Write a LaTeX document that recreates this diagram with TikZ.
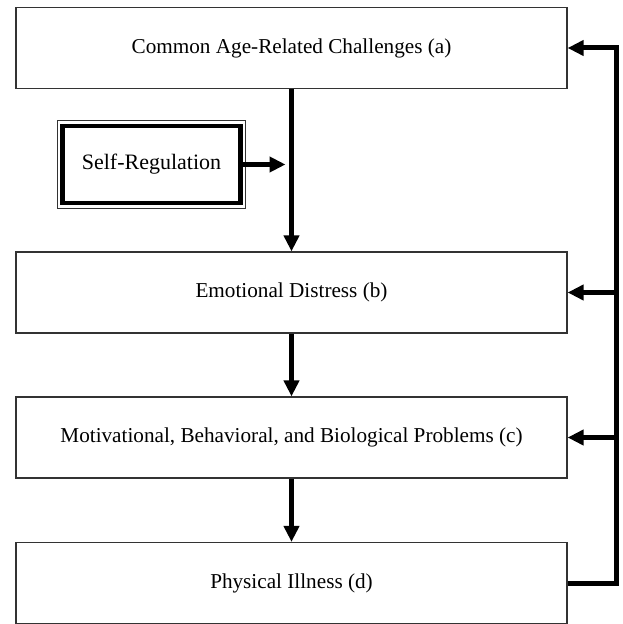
\documentclass[tikz,border=0pt]{standalone}
\usepackage{fontspec}
\setmainfont{Liberation Serif}
\usepackage{tikz}
\usetikzlibrary{arrows.meta, positioning, calc}
\definecolor{boxline}{HTML}{333333}

\begin{document}
\begin{tikzpicture}[
    x=0.5pt, y=-0.5pt,
    stage/.style={draw=boxline, line width=0.6pt, fill=white, minimum width=275.5pt, minimum height=40.5pt, align=center, font=\fontsize{10.6}{13}\selectfont},
    regbox/.style={draw=black, line width=2.2pt, minimum width=89pt, minimum height=38.5pt, align=center, font=\fontsize{11}{13}\selectfont},
    flow/.style={line width=2.1pt, -{Triangle[length=8pt, width=7.5pt]}},
    loop/.style={line width=2.5pt, -{Triangle[length=8pt, width=7.5pt]}},
]
    \useasboundingbox (0,0) rectangle (622,624);

    \node[stage] (a) at (291.5, 48) {Common Age-Related Challenges (a)};
    \node[stage] (b) at (291.5, 292.5) {Emotional Distress (b)};
    \node[stage] (c) at (291.5, 437.5) {Motivational, Behavioral, and Biological Problems (c)};
    \node[stage] (d) at (291.5, 583) {Physical Illness (d)};

    \node[regbox] (sr) at (151.5, 164.5) {Self-Regulation};
    \draw[line width=0.5pt, boxline] ([shift={(-1.6pt,1.6pt)}]sr.north west) rectangle ([shift={(1.6pt,-1.6pt)}]sr.south east);

    % main path
    \draw[flow] (a.south) -- (b.north);
    \draw[flow] (b.south) -- (c.north);
    \draw[flow] (c.south) -- (d.north);
    \coordinate (mod) at ($(a.south |- sr.east)+(-3pt,0)$);
    \draw[flow] (sr.east) -- (mod);

    % feedback from illness
    \coordinate (r) at (616, 0);
    \draw[loop] (d.east) -| (r |- a.east) -- (a.east);
    \draw[loop] (r |- b.east) -- (b.east);
    \draw[loop] (r |- c.east) -- (c.east);
\end{tikzpicture}
\end{document}
